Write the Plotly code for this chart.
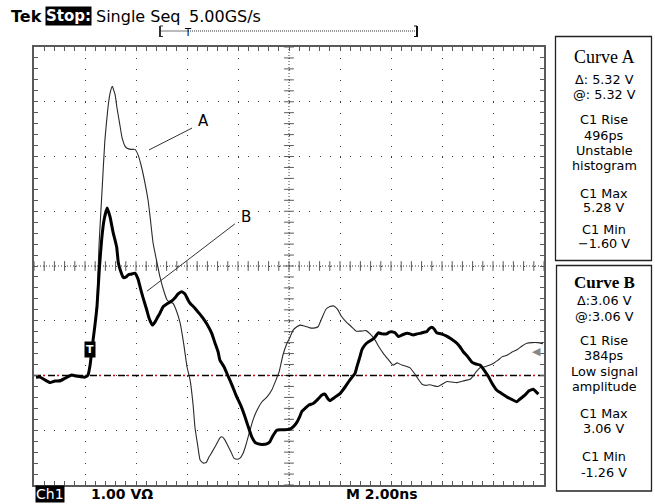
import numpy as np
import plotly.graph_objects as go

# ---------------- data (time in ns, voltage in V) ----------------
time_a = [0.08, 0.24, 0.63, 1.02, 1.49, 1.80, 2.12, 2.27, 2.47, 2.55, 2.67, 2.78, 2.90, 2.98, 3.07,
          3.18, 3.25, 3.37, 3.45, 3.57, 3.65, 3.80, 3.96, 4.08, 4.20, 4.35, 4.47, 4.55, 4.67, 4.82,
          4.94, 5.10, 5.22, 5.33, 5.45, 5.57, 5.73, 5.88, 6.00, 6.12, 6.24, 6.31, 6.43, 6.51, 6.63,
          6.75, 6.86, 6.98, 7.14, 7.29, 7.37, 7.49, 7.61, 7.73, 7.84, 7.96, 8.08, 8.20, 8.31, 8.47,
          8.59, 8.75, 8.94, 9.14, 9.33, 9.49, 9.61, 9.76, 9.92, 10.04, 10.16, 10.31, 10.43, 10.63,
          10.82, 11.02, 11.14, 11.29, 11.45, 11.61, 11.76, 11.92, 12.04, 12.24, 12.43, 12.63, 12.82,
          13.02, 13.18, 13.37, 13.53, 13.69, 13.88, 14.08, 14.24, 14.43, 14.59, 14.75, 14.90, 15.06,
          15.22, 15.37, 15.53, 15.69, 15.84, 16.00, 16.20, 16.39, 16.59, 16.82, 17.10, 17.22, 17.33,
          17.49, 17.69, 17.88, 18.04, 18.20, 18.35, 18.55, 18.75, 18.94, 19.14, 19.33, 19.53, 19.76,
          19.96]
volt_a = [-0.03, -0.03, -0.12, -0.08, 0.01, -0.02, -0.01, 0.47, 1.38, 2.38, 3.39, 4.30, 4.89, 5.15, 5.28,
          5.13, 4.90, 4.57, 4.35, 4.19, 4.15, 4.13, 4.13, 4.03, 3.84, 3.52, 3.21, 2.91, 2.42, 2.07,
          1.80, 1.53, 1.38, 1.34, 1.32, 1.20, 0.96, 0.55, 0.16, -0.08, -0.54, -0.94, -1.31, -1.54, -1.60,
          -1.59, -1.49, -1.40, -1.27, -1.14, -1.12, -1.18, -1.29, -1.40, -1.51, -1.53, -1.51, -1.42, -1.27, -1.00,
          -0.81, -0.63, -0.48, -0.39, -0.26, -0.08, 0.06, 0.37, 0.59, 0.70, 0.83, 0.89, 0.92, 0.90,
          0.87, 0.87, 0.89, 1.05, 1.21, 1.26, 1.27, 1.20, 1.09, 0.98, 0.90, 0.81, 0.81,
          0.82, 0.76, 0.65, 0.52, 0.41, 0.30, 0.19, 0.23, 0.19, 0.17, 0.14, 0.05, -0.06,
          -0.16, -0.18, -0.17, -0.19, -0.20, -0.16, -0.11, -0.12, -0.13, -0.10, -0.07, -0.01, 0.06,
          0.14, 0.16, 0.19, 0.23, 0.28, 0.34, 0.37, 0.43, 0.47, 0.54, 0.59, 0.60, 0.60,
          0.58]

time_b = [0.08, 0.24, 0.43, 0.63, 0.82, 1.02, 1.22, 1.48, 1.65, 1.80, 2.00, 2.12, 2.20, 2.27, 2.39,
          2.47, 2.56, 2.65, 2.75, 2.87, 2.98, 3.10, 3.24, 3.31, 3.41, 3.50, 3.61, 3.70, 3.80, 3.96,
          4.08, 4.16, 4.27, 4.42, 4.51, 4.64, 4.75, 4.82, 4.94, 5.07, 5.22, 5.40, 5.53, 5.65, 5.79,
          5.92, 6.04, 6.12, 6.31, 6.47, 6.64, 6.78, 6.97, 7.10, 7.22, 7.29, 7.45, 7.62, 7.76, 7.95,
          8.12, 8.27, 8.39, 8.54, 8.67, 8.80, 8.94, 9.13, 9.25, 9.37, 9.52, 9.65, 9.84, 10.04, 10.16,
          10.30, 10.43, 10.51, 10.63, 10.78, 10.95, 11.10, 11.28, 11.41, 11.53, 11.61, 11.76, 11.88,
          12.00, 12.20, 12.39, 12.59, 12.67, 12.78, 12.86, 12.98, 13.10, 13.24, 13.37, 13.50, 13.65,
          13.83, 13.92, 14.03, 14.16, 14.29, 14.43, 14.62, 14.75, 14.87, 15.02, 15.14, 15.29, 15.40,
          15.49, 15.60, 15.69, 15.79, 15.96, 16.18, 16.35, 16.58, 16.71, 16.84, 16.98, 17.16, 17.33,
          17.49, 17.65, 17.82, 17.96, 18.15, 18.31, 18.54, 18.71, 18.93, 19.06, 19.25, 19.41, 19.58,
          19.69, 19.78]
volt_b = [-0.03, -0.03, -0.08, -0.13, -0.10, -0.10, -0.05, 0.01, -0.01, -0.02, -0.03, 0.01, 0.19, 0.47, 0.92,
          1.26, 1.93, 2.47, 2.85, 3.06, 2.90, 2.62, 2.35, 2.05, 1.89, 1.79, 1.80, 1.84, 1.85, 1.87,
          1.76, 1.62, 1.43, 1.20, 1.05, 0.92, 0.98, 1.04, 1.14, 1.26, 1.31, 1.36, 1.42, 1.49, 1.53,
          1.49, 1.38, 1.32, 1.23, 1.14, 1.04, 0.94, 0.77, 0.59, 0.43, 0.28, 0.16, -0.02, -0.17, -0.39,
          -0.56, -0.75, -0.92, -1.12, -1.22, -1.25, -1.26, -1.25, -1.21, -1.10, -1.00, -0.99, -0.99, -0.98, -0.94,
          -0.86, -0.74, -0.65, -0.60, -0.54, -0.51, -0.45, -0.36, -0.34, -0.43, -0.46, -0.41, -0.37,
          -0.33, -0.21, -0.08, 0.04, 0.17, 0.34, 0.47, 0.56, 0.61, 0.65, 0.70, 0.78, 0.76,
          0.76, 0.79, 0.80, 0.78, 0.71, 0.74, 0.77, 0.76, 0.74, 0.76, 0.77, 0.79, 0.80,
          0.85, 0.88, 0.85, 0.78, 0.76, 0.72, 0.67, 0.59, 0.52, 0.43, 0.36, 0.25, 0.21,
          0.19, 0.10, -0.02, -0.14, -0.27, -0.32, -0.39, -0.43, -0.48, -0.43, -0.36, -0.28, -0.25,
          -0.30, -0.34]

X_RANGE = [0, 20]      # 2.00 ns / div, 10 divisions
Y_RANGE = [-2, 6]      # 1.00 V / div, 8 divisions
X_DIV, Y_DIV = 2.0, 1.0
GROUND = 0.0
X_CENTER, Y_CENTER = 10.0, 2.0

box_a_lines = ["Curve A", "Δ: 5.32 V", "@: 5.32 V", "C1 Rise", "496ps", "Unstable",
               "histogram", "C1 Max", "5.28 V", "C1 Min", "−1.60 V"]
box_b_lines = ["<b>Curve B</b>", "Δ:3.06 V", "@:3.06 V", "C1 Rise", "384ps", "Low signal",
               "amplitude", "C1 Max", "3.06 V", "C1 Min", "-1.26 V"]

# ---------------- layout geometry (pixels) ----------------
W, H = 655, 504
L, R, T, B = 34, 111, 47, 19
PW, PH = W - L - R, H - T - B


def px_x(p):
    return (p - L) / PW


def px_y(p):
    return (H - B - p) / PH


SANS = "DejaVu Sans"
SERIF = "Liberation Serif"
GRID = "#3a3a3a"
EDGE = "#5a5a5a"

fig = go.Figure()

# center crosshair (dense dotted) with ticks
fig.add_trace(go.Scatter(x=X_RANGE, y=[Y_CENTER, Y_CENTER], mode="lines",
                         line=dict(color=GRID, width=1, dash="1px,2px"), hoverinfo="skip"))
fig.add_trace(go.Scatter(x=[X_CENTER, X_CENTER], y=Y_RANGE, mode="lines",
                         line=dict(color=GRID, width=1, dash="1px,2px"), hoverinfo="skip"))
xt = np.arange(X_RANGE[0], X_RANGE[1] + 1e-9, X_DIV / 5)
yt = np.arange(Y_RANGE[0], Y_RANGE[1] + 1e-9, Y_DIV / 5)
fig.add_trace(go.Scatter(x=xt, y=[Y_CENTER] * len(xt), mode="markers", hoverinfo="skip",
                         marker=dict(symbol="line-ns", size=7, line=dict(color=EDGE, width=1))))
fig.add_trace(go.Scatter(x=[X_CENTER] * len(yt), y=yt, mode="markers", hoverinfo="skip",
                         marker=dict(symbol="line-ew", size=7, line=dict(color=EDGE, width=1))))

# ground reference: black dashes with red dots
fig.add_trace(go.Scatter(x=X_RANGE, y=[GROUND, GROUND], mode="lines",
                         line=dict(color="black", width=1.3, dash="7px,7px"), hoverinfo="skip"))
fig.add_trace(go.Scatter(x=X_RANGE, y=[GROUND, GROUND], mode="lines",
                         line=dict(color="#e00000", width=1.3, dash="0px,9px,2px,3px"), hoverinfo="skip"))

# waveforms
fig.add_trace(go.Scatter(x=time_a, y=volt_a, mode="lines", name="Curve A",
                         line=dict(color="#2a2a2a", width=1.1, shape="spline", smoothing=0.4)))
fig.add_trace(go.Scatter(x=time_b, y=volt_b, mode="lines", name="Curve B",
                         line=dict(color="black", width=3, shape="spline", smoothing=0.4)))

shapes = [
    # leader lines for labels
    dict(type="line", xref="x", yref="y", x0=4.51, y0=4.12, x1=6.20, y1=4.52,
         line=dict(color="#333", width=1)),
    dict(type="line", xref="x", yref="y", x0=4.43, y0=1.54, x1=7.88, y1=2.77,
         line=dict(color="#333", width=1)),
    # record-length bracket on top
    dict(type="line", xref="paper", yref="paper", x0=px_x(160), x1=px_x(188), y0=px_y(31), y1=px_y(31),
         line=dict(color="#777", width=1)),
    dict(type="line", xref="paper", yref="paper", x0=px_x(188), x1=px_x(416), y0=px_y(31), y1=px_y(31),
         line=dict(color="#333", width=1, dash="1px,1px")),
    dict(type="line", xref="paper", yref="paper", x0=px_x(160), x1=px_x(160), y0=px_y(26), y1=px_y(37),
         line=dict(color="#333", width=2)),
    dict(type="line", xref="paper", yref="paper", x0=px_x(160), x1=px_x(163), y0=px_y(26), y1=px_y(26),
         line=dict(color="#333", width=1)),
    dict(type="line", xref="paper", yref="paper", x0=px_x(160), x1=px_x(163), y0=px_y(36.5), y1=px_y(36.5),
         line=dict(color="#333", width=1)),
    dict(type="line", xref="paper", yref="paper", x0=px_x(417), x1=px_x(417), y0=px_y(26), y1=px_y(37),
         line=dict(color="#111", width=2)),
    dict(type="line", xref="paper", yref="paper", x0=px_x(414), x1=px_x(417), y0=px_y(26), y1=px_y(26),
         line=dict(color="#111", width=1)),
    dict(type="line", xref="paper", yref="paper", x0=px_x(414), x1=px_x(417), y0=px_y(36.5), y1=px_y(36.5),
         line=dict(color="#111", width=1)),
    # measurement boxes
    dict(type="rect", xref="paper", yref="paper", x0=px_x(555.5), x1=px_x(651.5), y0=px_y(36.5), y1=px_y(260.5),
         line=dict(color="#222", width=1.3)),
    dict(type="rect", xref="paper", yref="paper", x0=px_x(556.5), x1=px_x(651.5), y0=px_y(265.5), y1=px_y(491),
         line=dict(color="#222", width=1.3)),
]

ann = []


def text(px, py, s, size=14, family=SANS, color="black", anchor="left", bg=None, pad=0):
    ann.append(dict(xref="paper", yref="paper", x=px_x(px), y=px_y(py), text=s, showarrow=False,
                    xanchor=anchor, yanchor="middle", font=dict(family=family, size=size, color=color),
                    bgcolor=bg, borderpad=pad))


# header
text(10, 16, "<b>Tek</b>", 16)
text(45, 16, "<b>Stop:</b>", 15, color="white", bg="black")
text(95, 16, "Single Seq", 16)
text(188, 16, "5.00GS/s", 16)
text(188, 32, "T", 10, anchor="center")
# footer
text(35, 494, "Ch1", 14, color="white", bg="black")
text(90, 494, "<b>1.00 VΩ</b>", 14)
text(345, 494, "<b>M 2.00ns</b>", 14)

# measurement panels
PANEL_FONT = 12.8
ya = [57, 79, 94, 120, 135, 150, 165, 193, 208, 229, 244]
yb = [282, 300, 316, 340, 355, 371, 386, 413, 428, 456, 472]
for i, (s, y) in enumerate(zip(box_a_lines, ya)):
    text(604, y, s, 18 if i == 0 else PANEL_FONT, family=SERIF if i == 0 else SANS, anchor="center")
for i, (s, y) in enumerate(zip(box_b_lines, yb)):
    text(604, y, s, 17 if i == 0 else PANEL_FONT, family=SERIF if i == 0 else SANS, anchor="center")

# curve labels, trigger markers
ann.append(dict(x=6.63, y=4.65, xref="x", yref="y", text="A", showarrow=False,
                font=dict(family=SANS, size=15, color="black")))
ann.append(dict(x=8.31, y=2.89, xref="x", yref="y", text="B", showarrow=False,
                font=dict(family=SANS, size=15, color="black")))
ann.append(dict(x=2.2, y=0.47, xref="x", yref="y", text="<b>T</b>", showarrow=False,
                font=dict(family=SANS, size=11, color="white"), bgcolor="black", borderpad=1))
ann.append(dict(x=19.72, y=0.43, xref="x", yref="y", text="◀", showarrow=False,
                font=dict(family=SANS, size=11, color="#888")))

axis_common = dict(showline=True, linecolor=EDGE, linewidth=2, mirror="allticks",
                   ticks="inside", ticklen=4, tickcolor=EDGE, tickwidth=1,
                   showticklabels=False, showgrid=True, gridcolor=GRID, gridwidth=1,
                   zeroline=False, fixedrange=True)

fig.update_layout(
    width=W, height=H, margin=dict(l=L, r=R, t=T, b=B),
    paper_bgcolor="white", plot_bgcolor="white", showlegend=False,
    xaxis=dict(range=X_RANGE, dtick=X_DIV, tick0=0, griddash="1px,9.95px",
               minor=dict(ticks="inside", ticklen=4, dtick=X_DIV / 5, tick0=0, tickcolor=EDGE, showgrid=False),
               **axis_common),
    yaxis=dict(range=Y_RANGE, dtick=Y_DIV, tick0=0, griddash="1px,9.2px",
               minor=dict(ticks="inside", ticklen=4, dtick=Y_DIV / 5, tick0=0, tickcolor=EDGE, showgrid=False),
               **axis_common),
    shapes=shapes, annotations=ann,
)

fig.write_html("out.html", config={"displayModeBar": False},
               post_script="document.body.style.margin='0';document.body.style.padding='0';")
